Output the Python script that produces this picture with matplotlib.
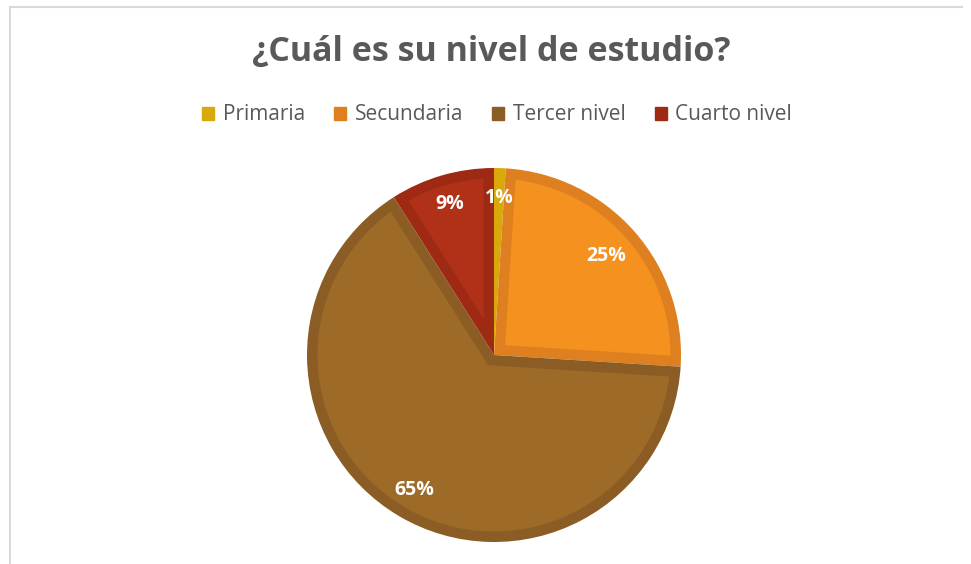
import matplotlib
matplotlib.use("Agg")
import numpy as np
import matplotlib.pyplot as plt
from matplotlib.patches import Patch, Polygon
from matplotlib.lines import Line2D

categories = ["Primaria", "Secundaria", "Tercer nivel", "Cuarto nivel"]
values = [1, 25, 65, 9]
fill_colors = ["#E8B60C", "#F5911F", "#9E6A28", "#B03117"]
edge_colors = ["#D9A90A", "#DE801F", "#8B5D24", "#9E2A14"]
title = "¿Cuál es su nivel de estudio?"

W, H = 971, 564
fig = plt.figure(figsize=(W / 100, H / 100), dpi=100)
fig.patch.set_facecolor("white")

# chart border (left & top visible)
fig.add_artist(Line2D([10 / W, 10 / W], [0, 1 - 7 / H], color="#D9D9D9", lw=1.5))
fig.add_artist(Line2D([10 / W, 962 / W], [1 - 7 / H, 1 - 7 / H], color="#D9D9D9", lw=1.5))

cx, cy, r = 494, 355, 187
ax = fig.add_axes([(cx - r) / W, (H - cy - r) / H, 2 * r / W, 2 * r / H])
wedges, texts, autotexts = ax.pie(
    values, colors=edge_colors, startangle=90, counterclock=False,
    autopct=lambda p: f"{p:.0f}%", pctdistance=0.84, radius=1,
    wedgeprops=dict(linewidth=0),
    textprops=dict(color="white", fontsize=14, fontweight="bold", family="Open Sans"))


def inset_polygon(center, R, t1, t2, d, n=200):
    a1, a2 = np.radians(t1), np.radians(t2)
    alpha = a2 - a1
    c = np.asarray(center, float)
    bis = (a1 + a2) / 2
    t = d / np.sin(alpha / 2)
    if t >= R - d:
        return None
    P = c + t * np.array([np.cos(bis), np.sin(bis)])
    s = np.sqrt((R - d) ** 2 - d ** 2)
    b1 = a1 + np.arctan2(d, s)
    b2 = a2 - np.arctan2(d, s)
    ang = np.linspace(b1, b2, n)
    arc = c + (R - d) * np.column_stack([np.cos(ang), np.sin(ang)])
    return np.vstack([P, arc])


border = 10.5 / r  # border width in data units
for w, fc in zip(wedges, fill_colors):
    pts = inset_polygon(w.center, w.r, w.theta1, w.theta2, border)
    if pts is not None:
        ax.add_patch(Polygon(pts, closed=True, facecolor=fc, edgecolor="none", lw=0))

# pull the 25% label slightly inward, as in the reference
x, y = autotexts[1].get_position()
autotexts[1].set_position((x * 0.80 / 0.84, y * 0.80 / 0.84))

ax.set_xlim(-1, 1)
ax.set_ylim(-1, 1)
ax.set_aspect("equal")
ax.axis("off")

fig.text(491 / W, 1 - 52 / H, title, ha="center", va="center",
         fontsize=24.5, fontweight="bold", color="#595959", family="Open Sans")

handles = [Patch(facecolor=c, edgecolor=c) for c in edge_colors]
fig.legend(handles, categories, loc="center", bbox_to_anchor=(497 / W, 1 - 115 / H),
           ncol=4, frameon=False, handlelength=0.58, handleheight=0.58,
           handletextpad=0.4, columnspacing=1.4,
           prop=dict(family="Open Sans", size=15), labelcolor="#595959")

fig.savefig("out.png", dpi=100)
